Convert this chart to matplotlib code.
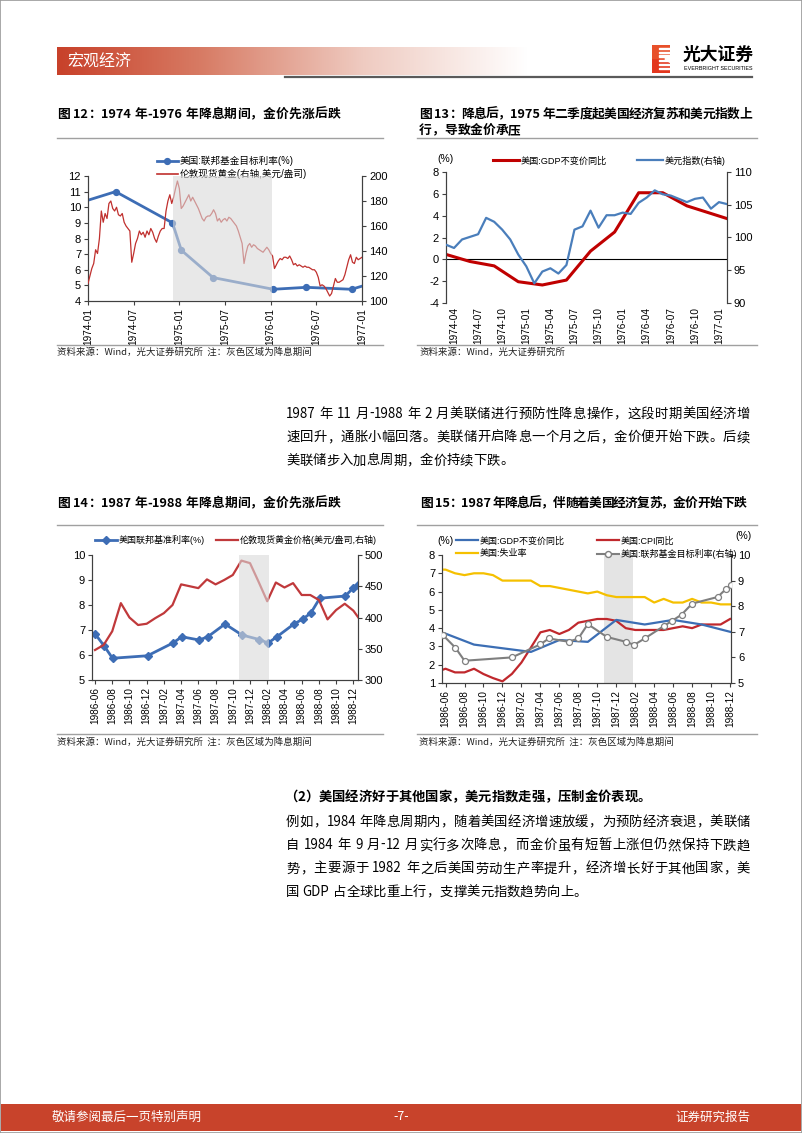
import re
import numpy as np
import matplotlib
matplotlib.use('Agg')
import matplotlib.pyplot as plt
from matplotlib.colors import LinearSegmentedColormap
from matplotlib.lines import Line2D
from matplotlib.patches import Rectangle, Polygon

# ------------------------------------------------------------------ data
# Chart 12 (1974-1976)
gold74_start = '1974-01'          # quarter-month steps
gold74 = [114, 120, 126, 130, 141, 138, 150, 172, 163, 170, 166, 178,
          180, 174, 172, 175, 169, 168, 170, 163, 160, 158, 156, 131,
          138, 146, 150, 156, 153, 155, 151, 156, 153, 158, 155, 150,
          147, 152, 156, 158, 158, 172, 180, 185, 178, 183, 190, 196,
          190, 174, 176, 179, 182, 185, 180, 183, 180, 177, 174, 170,
          166, 164, 167, 168, 168, 170, 173, 170, 164, 166, 163, 165,
          166, 164, 167, 166, 164, 162, 160, 156, 151, 146, 130, 138,
          144, 146, 143, 145, 144, 142, 141, 140, 139, 141, 143, 141,
          138, 136, 126, 129, 132, 134, 133, 135, 135, 134, 136, 133,
          129, 130, 128, 129, 128, 127, 128, 127, 127, 126, 125, 125,
          123, 119, 112, 113, 112, 110, 107, 104, 106, 112, 118, 115,
          115, 116, 117, 121, 127, 133, 137, 131, 130, 135, 133, 134, 135]
fed74_dates = ['1974-01-01', '1974-04-20', '1974-12-04', '1975-01-09', '1975-05-14',
               '1976-01-11', '1976-05-22', '1976-11-20', '1977-01-01']
fed74_vals = [10.45, 11.0, 9.0, 7.25, 5.5, 4.75, 4.875, 4.75, 4.95]
ticks12 = ['1974-01', '1974-07', '1975-01', '1975-07', '1976-01', '1976-07', '1977-01']
shade12 = ('1974-12-06', '1976-01-08')

# Chart 13 (monthly from 1974-03)
dxy_start = '1974-03'
dxy13 = [98.9, 98.4, 99.7, 100.1, 100.5, 103.0, 102.4, 101.2, 99.7, 97.4, 95.6, 93.0,
         94.8, 95.3, 94.5, 95.8, 101.2, 101.7, 104.1, 101.5, 103.4, 103.4, 103.8, 103.6,
         105.3, 106.1, 107.2, 106.6, 106.4, 105.9, 105.4, 105.9, 106.1, 104.4, 105.4, 105.1]
gdp13_dates = ['1974-03', '1974-06', '1974-09', '1974-12', '1975-03', '1975-06', '1975-09',
               '1975-12', '1976-03', '1976-06', '1976-09', '1976-12', '1977-03']
gdp13 = [0.45, -0.2, -0.6, -2.05, -2.35, -1.9, 0.75, 2.5, 6.1, 6.1, 4.9, 4.2, 3.5]
ticks13 = ['1974-04', '1974-07', '1974-10', '1975-01', '1975-04', '1975-07', '1975-10',
           '1976-01', '1976-04', '1976-07', '1976-10', '1977-01']

# Chart 14 (1986-1988)
gold87_start = '1986-06'          # monthly
gold87 = [348, 356, 378, 423, 400, 388, 390,
          399, 407, 420, 453, 450, 447, 461, 453, 460, 468, 491, 487,
          457, 426, 456, 448, 455, 436, 436, 428, 397, 412, 422, 411,
          392]
fed87_dates = ['1986-06-01', '1986-07-03', '1986-08-02', '1986-12-04', '1987-03-04',
               '1987-04-03', '1987-06-04', '1987-07-04', '1987-09-04', '1987-11-03',
               '1988-01-03', '1988-02-04', '1988-03-06', '1988-05-04', '1988-06-04',
               '1988-07-03', '1988-08-04', '1988-11-03', '1988-11-30', '1988-12-17']
fed87_vals = [6.85, 6.36, 5.87, 5.97, 6.49, 6.73, 6.6, 6.73, 7.24, 6.8,
              6.62, 6.48, 6.74, 7.24, 7.43, 7.68, 8.27, 8.36, 8.67, 8.8]
ticks14 = ['1986-06', '1986-08', '1986-10', '1986-12', '1987-02', '1987-04', '1987-06',
           '1987-08', '1987-10', '1987-12', '1988-02', '1988-04', '1988-06', '1988-08',
           '1988-10', '1988-12']
shade14 = ('1987-10-22', '1988-02-07')

# Chart 15
m15_start = '1986-05'             # monthly
unemp15 = [7.2, 7.2, 7.0, 6.9, 7.0, 7.0, 6.9, 6.6,
           6.6, 6.6, 6.6, 6.3, 6.3, 6.2, 6.1, 6.0, 5.9, 6.0, 5.8, 5.7,
           5.7, 5.7, 5.7, 5.4, 5.6, 5.4, 5.4, 5.6, 5.4, 5.4, 5.3, 5.3]
cpi15 = [1.6, 1.78, 1.58, 1.58, 1.78, 1.49, 1.27, 1.09,
         1.5, 2.12, 2.94, 3.77, 3.9, 3.68, 3.9, 4.3, 4.4, 4.5, 4.5, 4.4,
         4.0, 3.9, 3.9, 3.9, 3.9, 4.0, 4.1, 4.0, 4.2, 4.2, 4.2, 4.5]
gdp15_dates = ['1986-03', '1986-06', '1986-09', '1986-12', '1987-03', '1987-06',
               '1987-09', '1987-12', '1988-03', '1988-06', '1988-09', '1988-12']
gdp15 = [3.95, 3.7, 3.1, 2.9, 2.7, 3.35, 3.25, 4.45, 4.2, 4.45, 4.2, 3.8]
fed15_dates = ['1986-05-23', '1986-07-02', '1986-08-01', '1987-01-01', '1987-04-01',
               '1987-04-28', '1987-07-01', '1987-08-01', '1987-09-01', '1987-11-01',
               '1988-01-01', '1988-01-28', '1988-03-01', '1988-05-01', '1988-05-28',
               '1988-06-28', '1988-08-01', '1988-10-22', '1988-11-19', '1988-12-04']
fed15_vals = [6.87, 6.38, 5.87, 6.0, 6.51, 6.74, 6.61, 6.74, 7.3, 6.8,
              6.61, 6.49, 6.74, 7.22, 7.43, 7.67, 8.1, 8.36, 8.68, 8.81]
ticks15 = ticks14
shade15 = ('1987-10-22', '1988-01-25')

# ------------------------------------------------------------------ helpers
W, H = 802, 1133
fig = plt.figure(figsize=(W / 100, H / 100), dpi=100)
CJK = ['Noto Sans CJK SC', 'DejaVu Sans']
CH = ['Liberation Sans', 'Noto Sans CJK SC', 'DejaVu Sans']
plt.rcParams['font.family'] = CH
plt.rcParams['axes.unicode_minus'] = False


def fx(x):
    return x / W


def fy(y):
    return 1 - y / H


def add_ax(x0, y0, x1, y1):
    return fig.add_axes([x0 / W, 1 - y1 / H, (x1 - x0) / W, (y1 - y0) / H])


def hline(x0, x1, y, color, lw):
    fig.add_artist(Line2D([fx(x0), fx(x1)], [fy(y), fy(y)], color=color, lw=lw,
                          transform=fig.transFigure))


def mpos(s, base):
    by, bm = map(int, base.split('-')[:2])
    p = list(map(int, s.split('-')))
    y, m = p[0], p[1]
    d = p[2] if len(p) > 2 else 1
    return (y - by) * 12 + (m - bm) + (d - 1) / 30.4


TOK = re.compile(r'[A-Za-z0-9\.]+|.')
RENDER = fig.canvas.get_renderer()


def jline(x0, x1, y, s, size, weight='normal', justify=True, color='black', family=CJK):
    toks = TOK.findall(s)
    px = size * 100 / 72
    base = y + 0.36 * px
    objs, widths = [], []
    for t in toks:
        if t == ' ':
            objs.append(None)
            widths.append(0.25 * px)
            continue
        o = fig.text(0, fy(base), t, fontsize=size, family=family, weight=weight,
                     va='baseline', ha='left', color=color)
        widths.append(o.get_window_extent(RENDER).width)
        objs.append(o)
    n = len(toks)
    gap = (x1 - x0 - sum(widths)) / (n - 1) if (justify and n > 1) else 0
    x = x0
    for o, w in zip(objs, widths):
        if o is not None:
            o.set_x(fx(x))
        x += w + gap


SPC = '#404040'


def style(ax, right=None):
    for a in [ax] + ([right] if right is not None else []):
        for sp in a.spines.values():
            sp.set_color(SPC)
            sp.set_linewidth(0.8)
        a.spines['top'].set_visible(False)
        a.tick_params(direction='out', length=3, width=0.8, color=SPC, labelsize=8,
                      labelcolor='black', pad=2)
    ax.set_facecolor('none')


XL = 7.2   # x tick label size

# ------------------------------------------------------------------ page
fig.add_artist(Rectangle((0, 0), 1, 1, transform=fig.transFigure, fill=False,
                         ec='#9a9a9a', lw=1.2))
# header bar
hb = add_ax(57, 47, 528, 75)
cm = LinearSegmentedColormap.from_list('hdr', [(0, '#c8412a'), (0.3, '#d77a63'),
                                               (0.65, '#efcbc1'), (1, '#ffffff')])
hb.imshow(np.linspace(0, 1, 256).reshape(1, -1), aspect='auto', cmap=cm,
          extent=[0, 1, 0, 1])
hb.axis('off')
fig.text(fx(67), fy(62), '宏观经济', color='white', fontsize=11.5, family=CJK,
         weight='medium', va='center', ha='left')
hline(285, 752, 77, '#5a5a5a', 1.6)
# logo
lg = add_ax(652, 45, 670, 73)
lg.set_xlim(0, 1)
lg.set_ylim(0, 1)
lg.axis('off')
lg.add_patch(Rectangle((0, 0), 1, 1, color='#e3371e'))
lg.add_patch(Rectangle((0, 0.55), 1, 0.45, color='#e8502a'))
for yy in [0.14, 0.28, 0.42, 0.58, 0.72, 0.86]:
    lg.add_patch(Rectangle((0.38, yy), 0.62, 0.045, color='white'))
lg.add_patch(Polygon([[1, 0.38], [0.72, 0.5], [1, 0.62]], color='white'))
fig.text(fx(683), fy(55), '光大证券', fontsize=12.8, weight='bold', family=CJK,
         va='center', ha='left')
fig.text(fx(684), fy(68.5), 'EVERBRIGHT SECURITIES', fontsize=3.9, family=CH,
         va='center', ha='left')

# footer
fig.add_artist(Rectangle((fx(1), fy(1131)), fx(800), (1131 - 1104) / H,
                         transform=fig.transFigure, color='#c8432b', lw=0))
fig.text(fx(52), fy(1117), '敬请参阅最后一页特别声明', color='white', fontsize=9,
         family=CJK, va='center', ha='left')
fig.text(fx(401), fy(1117), '-7-', color='white', fontsize=9, family=CJK,
         va='center', ha='center')
fig.text(fx(750), fy(1117), '证券研究报告', color='white', fontsize=9, family=CJK,
         va='center', ha='right')

# chart titles, rules and sources
TS = 9.2
jline(57, 340, 113, '图 12：1974 年-1976 年降息期间，金价先涨后跌', TS, 'bold', True)
jline(419, 752, 113, '图 13：降息后，1975 年二季度起美国经济复苏和美元指数上', TS, 'bold', True)
jline(419, 757, 129, '行，导致金价承压', TS, 'bold', False)
jline(57, 340, 502, '图 14：1987 年-1988 年降息期间，金价先涨后跌', TS, 'bold', True)
jline(420, 746, 502, '图 15：1987 年降息后，伴随着美国经济复苏，金价开始下跌', TS, 'bold', True)
for (a, b) in [(57, 383), (417, 757)]:
    hline(a, b, 138, '#a0a0a0', 1.0)
    hline(a, b, 525, '#a0a0a0', 1.0)
    hline(a, b, 345, '#a0a0a0', 1.0)
    hline(a, b, 734, '#a0a0a0', 1.0)
SRC = 6.8
src_note = '资料来源：Wind，光大证券研究所  注：灰色区域为降息期间'
fig.text(fx(57), fy(352), src_note, fontsize=SRC, family=CJK, va='center', color='#222222')
fig.text(fx(419), fy(352), '资料来源：Wind，光大证券研究所', fontsize=SRC, family=CJK,
         va='center', color='#222222')
fig.text(fx(57), fy(742), src_note, fontsize=SRC, family=CJK, va='center', color='#222222')
fig.text(fx(419), fy(742), src_note, fontsize=SRC, family=CJK, va='center', color='#222222')

# body text
BS = 9.6
LS = 23.3
para1 = ['1987 年 11 月-1988 年 2 月美联储进行预防性降息操作，这段时期美国经济增',
         '速回升，通胀小幅回落。美联储开启降息一个月之后，金价便开始下跌。后续',
         '美联储步入加息周期，金价持续下跌。']
for i, s in enumerate(para1):
    jline(286, 750, 413 + i * LS, s, BS, justify=(i < len(para1) - 1))
jline(284, 651, 796, '（2）美国经济好于其他国家，美元指数走强，压制金价表现。', BS, 'bold', True)
para2 = ['例如，1984 年降息周期内，随着美国经济增速放缓，为预防经济衰退，美联储',
         '自 1984 年 9 月-12 月实行多次降息，而金价虽有短暂上涨但仍然保持下跌趋',
         '势，主要源于 1982 年之后美国劳动生产率提升，经济增长好于其他国家，美',
         '国 GDP 占全球比重上行，支撑美元指数趋势向上。']
for i, s in enumerate(para2):
    jline(286, 750, 821 + i * LS, s, BS, justify=(i < len(para2) - 1))

SHADE_TOP = dict(color='#d9d9d9', alpha=0.6, lw=0, zorder=10)

# ------------------------------------------------------------------ chart 12
ax = add_ax(88, 176, 362, 301)
ax2 = ax.twinx()
style(ax, ax2)
xg = np.arange(len(gold74)) * 0.25
xf = [mpos(d, gold74_start) for d in fed74_dates]
ax.plot(xf, fed74_vals, color='#3d6db5', lw=2, marker='o', ms=4.2,
        markevery=list(range(1, len(xf) - 1)), zorder=3, clip_on=True)
ax2.plot(xg, gold74, color='#c0302e', lw=0.9, zorder=3)
ax2.axvspan(mpos(shade12[0], gold74_start), mpos(shade12[1], gold74_start), **SHADE_TOP)
ax.set_xlim(0, 36)
ax.set_ylim(4, 12)
ax.set_yticks(range(4, 13))
ax2.set_ylim(100, 200)
ax2.set_yticks(range(100, 201, 20))
ax.set_xticks([mpos(t, gold74_start) for t in ticks12])
ax.set_xticklabels(ticks12, rotation=90, fontsize=XL)
h12 = [Line2D([], [], color='#3d6db5', lw=2, marker='o', ms=4.2),
       Line2D([], [], color='#c0302e', lw=1.2)]
ax2.legend(h12, ['美国:联邦基金目标利率(%)', '伦敦现货黄金(右轴,美元/盎司)'],
           loc='upper left', bbox_to_anchor=(fx(151), fy(150)), bbox_transform=fig.transFigure,
           frameon=False, fontsize=6.9, handlelength=2.2, handletextpad=0.2,
           labelspacing=0.3, borderpad=0.1)

# ------------------------------------------------------------------ chart 13
ax = add_ax(446, 172, 727, 303)
ax2 = ax.twinx()
style(ax, ax2)
ax.spines['bottom'].set_visible(False)
ax2.spines['bottom'].set_visible(False)
ax.axhline(0, color='black', lw=0.8, zorder=1)
ax.plot([mpos(d, dxy_start) for d in gdp13_dates], gdp13, color='#c00000', lw=2.2, zorder=3)
ax2.plot(np.arange(len(dxy13)), dxy13, color='#4a7ebb', lw=1.6, zorder=3)
ax.set_xlim(0, 35)
ax.set_ylim(-4, 8)
ax.set_yticks(range(-4, 9, 2))
ax2.set_ylim(90, 110)
ax2.set_yticks(range(90, 111, 5))
ax.set_xticks([mpos(t, dxy_start) for t in ticks13])
ax.set_xticklabels(ticks13, rotation=90, fontsize=XL)
ax.tick_params(axis='x', length=0, pad=3)
fig.text(fx(437), fy(159), '(%)', fontsize=7.5, va='center', ha='left')
h13 = [Line2D([], [], color='#c00000', lw=2.2), Line2D([], [], color='#4a7ebb', lw=1.6)]
ax2.legend(h13, ['美国:GDP不变价同比', '美元指数(右轴)'], loc='upper left',
           bbox_to_anchor=(fx(488), fy(150)), bbox_transform=fig.transFigure, ncol=2,
           frameon=False, fontsize=6.6, handlelength=2.8, handletextpad=0.2,
           columnspacing=3.3, borderpad=0.1)

# ------------------------------------------------------------------ chart 14
ax = add_ax(92, 555, 358, 680)
ax2 = ax.twinx()
style(ax, ax2)
ax.plot([mpos(d, gold87_start) for d in fed87_dates], fed87_vals, color='#3d6db5', lw=2,
        marker='D', ms=3.8, zorder=3)
ax2.plot(np.arange(len(gold87)), gold87, color='#c0393b', lw=1.6, zorder=3)
ax2.axvspan(mpos(shade14[0], gold87_start), mpos(shade14[1], gold87_start), **SHADE_TOP)
ax.set_xlim(-0.35, 30.54)
ax.set_ylim(5, 10)
ax.set_yticks(range(5, 11))
ax2.set_ylim(300, 500)
ax2.set_yticks(range(300, 501, 50))
ax.set_xticks([mpos(t, gold87_start) for t in ticks14])
ax.set_xticklabels(ticks14, rotation=90, fontsize=XL)
h14 = [Line2D([], [], color='#3d6db5', lw=2, marker='D', ms=3.8),
       Line2D([], [], color='#c0393b', lw=1.6)]
ax2.legend(h14, ['美国联邦基准利率(%)', '伦敦现货黄金价格(美元/盎司,右轴)'], loc='upper left',
           bbox_to_anchor=(fx(90), fy(530)), bbox_transform=fig.transFigure, ncol=2,
           frameon=False, fontsize=6.5, handlelength=2.4, handletextpad=0.2,
           columnspacing=1.2, borderpad=0.1)

# ------------------------------------------------------------------ chart 15
ax = add_ax(442, 555, 731, 683)
ax2 = ax.twinx()
style(ax, ax2)
ax.axvspan(mpos(shade15[0], m15_start), mpos(shade15[1], m15_start), color='#e4e4e4',
           lw=0, zorder=0)
xm = np.arange(len(unemp15))
ax.plot(xm, unemp15, color='#f5c000', lw=1.6, zorder=3)
ax.plot(xm, cpi15, color='#c0282d', lw=1.6, zorder=3)
ax.plot([mpos(d, m15_start) for d in gdp15_dates], gdp15, color='#3c6eb4', lw=1.6, zorder=3)
ax2.plot([mpos(d, m15_start) for d in fed15_dates], fed15_vals, color='#7f7f7f', lw=1.5,
         marker='o', ms=4.3, mfc='white', mec='#7f7f7f', mew=0.9, zorder=4)
ax.set_xlim(mpos('1986-05-20', m15_start), mpos('1988-12-04', m15_start))
ax.set_ylim(1, 8)
ax.set_yticks(range(1, 9))
ax2.set_ylim(5, 10)
ax2.set_yticks(range(5, 11))
ax.set_xticks([mpos(t, m15_start) for t in ticks15])
ax.set_xticklabels(ticks15, rotation=90, fontsize=XL)
fig.text(fx(437), fy(541), '(%)', fontsize=7.5, va='center', ha='left')
fig.text(fx(735), fy(536), '(%)', fontsize=7.5, va='center', ha='left')
h15 = [Line2D([], [], color='#3c6eb4', lw=1.6), Line2D([], [], color='#f5c000', lw=1.6),
       Line2D([], [], color='#c0282d', lw=1.6),
       Line2D([], [], color='#7f7f7f', lw=1.5, marker='o', ms=4.3, mfc='white', mec='#7f7f7f')]
ax2.legend(h15, ['美国:GDP不变价同比', '美国:失业率', '美国:CPI同比', '美国:联邦基金目标利率(右轴)'],
           loc='upper left', bbox_to_anchor=(fx(451), fy(531)), bbox_transform=fig.transFigure,
           ncol=2, frameon=False, fontsize=6.5, handlelength=2.4, handletextpad=0.2,
           columnspacing=3.6, labelspacing=0.35, borderpad=0.1)

fig.savefig('out.png', dpi=100)
